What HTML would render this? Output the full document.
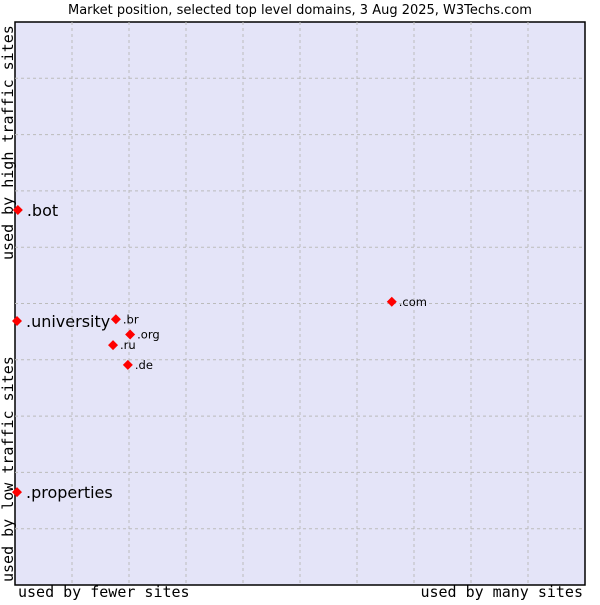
<!DOCTYPE html>
<html><head><meta charset="utf-8"><style>
body{margin:0;background:#fff;width:600px;height:600px;overflow:hidden}
svg{font-family:"DejaVu Sans","Liberation Sans",sans-serif}
</style></head><body>
<svg width="600" height="600">
<text x="300" y="14" text-anchor="middle" font-size="13" fill="#000">Market position, selected top level domains, 3 Aug 2025, W3Techs.com</text>
<rect x="15" y="22" width="570" height="563" fill="#e4e4f8" stroke="#000" stroke-width="1.5"/>
<g id="grid"></g>
<g id="pts"></g>
<text x="18" y="597" font-family="DejaVu Sans Mono,Liberation Mono,monospace" font-size="15">used by fewer sites</text>
<text x="583" y="597" text-anchor="end" font-family="DejaVu Sans Mono,Liberation Mono,monospace" font-size="15">used by many sites</text>
<text transform="translate(13,260) rotate(-90)" font-family="DejaVu Sans Mono,Liberation Mono,monospace" font-size="15">used by high traffic sites</text>
<text transform="translate(13,582) rotate(-90)" font-family="DejaVu Sans Mono,Liberation Mono,monospace" font-size="15">used by low traffic sites</text>
</svg>
<script>
const domains=[".bot",".university",".properties",".com",".br",".org",".ru",".de"];
const xVals=[0.5,0.35,0.35,66.1,17.7,20.2,17.2,19.8];
const yVals=[66.6,46.9,16.5,50.3,47.2,44.5,42.6,39.1];
const bigLabel=[true,true,true,false,false,false,false,false];
const L=15,T=22,W=570,H=563;
const sx=v=>L+v/100*W, sy=v=>T+H-v/100*H;
const NS="http://www.w3.org/2000/svg";
const g=document.getElementById('grid');
for(let i=1;i<10;i++){
 const a=document.createElementNS(NS,'line');
 
 
 a.setAttribute('x1',sx(i*10));a.setAttribute('x2',sx(i*10));a.setAttribute('y1',T);a.setAttribute('y2',T+H);
 a.setAttribute('stroke','#bbb');a.setAttribute('stroke-dasharray','3,3');g.appendChild(a);
 const b=document.createElementNS(NS,'line');
 
 
 b.setAttribute('y1',sy(i*10));b.setAttribute('y2',sy(i*10));b.setAttribute('x1',L);b.setAttribute('x2',L+W);
 b.setAttribute('stroke','#bbb');b.setAttribute('stroke-dasharray','3,3');g.appendChild(b);
}
const p=document.getElementById('pts');
domains.forEach((d,i)=>{
 const x=sx(xVals[i]),y=sy(yVals[i]);
 const m=document.createElementNS(NS,'polygon');
 
 
 m.setAttribute('points',`${x},${y-5} ${x+5},${y} ${x},${y+5} ${x-5},${y}`);
 m.setAttribute('fill','#f00');p.appendChild(m);
 const t=document.createElementNS(NS,'text');
 
 
 t.setAttribute('x',x+(bigLabel[i]?9:7));t.setAttribute('y',y+(bigLabel[i]?6:4));
 t.setAttribute('font-size',bigLabel[i]?16:11.5);t.textContent=d;p.appendChild(t);
});
</script>
</body></html>
